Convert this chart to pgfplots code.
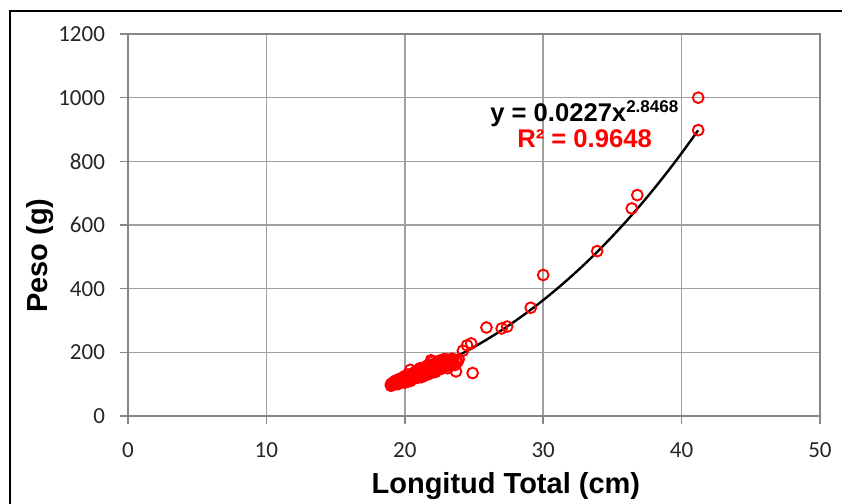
\documentclass[border=0pt]{standalone}
\usepackage{pgfplots}
\pgfplotsset{compat=1.18}
\usepackage{fontspec}
\setmainfont{Liberation Sans}
\newfontfamily\tickfont{Carlito}
\definecolor{gridgray}{RGB}{160,160,160}
\definecolor{axisgray}{RGB}{134,134,134}
\definecolor{ptred}{RGB}{255,0,0}

\begin{document}
\begin{tikzpicture}
% page = 842x504 px, 1 px = 0.5pt; axis box south west at (0,0)
\useasboundingbox (-64pt,-44pt) rectangle (357pt,208pt);
\draw[line width=1.3pt] (-59pt,-60pt) -- (-59pt,202.5pt) -- (380pt,202.5pt);
\begin{axis}[
    scale only axis, width=346pt, height=191pt,
    xmin=0, xmax=50, ymin=0, ymax=1200,
    xtick={0,10,...,50}, ytick={0,200,...,1200},
    grid=major, grid style={gridgray, line width=0.75pt},
    axis line style={axisgray, line width=0.75pt},
    tick align=outside, tick pos=left, major tick length=4pt,
    tick style={axisgray, line width=0.75pt},
    /pgf/number format/assume math mode=true,
    /pgf/number format/1000 sep={},
    tick label style={font=\tickfont\fontsize{11.5}{12}\selectfont, text=black!85},
    yticklabel style={xshift=-4pt},
    xticklabel style={yshift=-6pt},
    xlabel={Longitud Total (cm)},
    ylabel={Peso (g)},
    label style={font=\fontsize{14.5}{16}\selectfont\bfseries},
    xlabel style={at={(axis description cs:0.546,-0.204)}, anchor=base},
    ylabel style={at={(axis description cs:-0.117,0.42)}, anchor=base, rotate=0},
]
% observed specimens
\addplot[only marks, mark=o, mark size=2.7pt, ptred, line width=0.95pt] coordinates {
(19.0,95) (19.0,100) (19.1,103) (19.2,98) (19.2,106) (19.3,101) (19.3,110)
(19.4,104) (19.4,112) (19.5,100) (19.5,108) (19.6,115) (19.6,105) (19.7,110)
(19.7,118) (19.8,107) (19.8,113) (19.9,120) (19.9,110) (20.0,105) (20.0,115)
(20.0,125) (20.1,112) (20.1,120) (20.2,108) (20.2,118) (20.2,130) (20.3,115)
(20.3,124) (20.4,145) (20.4,110) (20.4,120) (20.5,128) (20.5,116) (20.6,122)
(20.6,135) (20.7,118) (20.7,127) (20.8,140) (20.8,124) (20.9,120) (20.9,132)
(21.0,125) (21.0,138) (21.0,145) (21.1,128) (21.1,150) (21.2,122) (21.2,135)
(21.3,140) (21.3,130) (21.4,126) (21.4,148) (21.5,135) (21.5,155) (21.6,130)
(21.6,142) (21.7,138) (21.7,160) (21.8,133) (21.8,147) (21.9,152) (21.9,175)
(22.0,140) (22.0,160) (22.0,170) (22.1,145) (22.1,155) (22.2,138) (22.2,165)
(22.3,150) (22.3,158) (22.4,145) (22.4,172) (22.5,155) (22.5,165) (22.6,148)
(22.6,175) (22.7,160) (22.7,150) (22.8,168) (22.8,178) (22.9,155) (22.9,170)
(23.0,160) (23.0,178) (23.1,150) (23.1,168) (23.2,175) (23.2,162) (23.3,158)
(23.3,172) (23.4,180) (23.5,165) (23.5,178) (23.6,160) (23.7,175) (23.7,140)
(23.8,170) (23.9,178) (24.2,205) (24.5,222) (24.8,228) (24.9,135) (25.9,278)
(27.0,275) (27.4,281) (29.1,340) (30.0,443) (33.9,518) (36.4,652) (36.8,694)
(41.2,898) (41.2,1000)
};
% power trendline y = 0.0227 x^2.8468, tabulated
\addplot[black, line width=1.2pt, smooth] coordinates {
(19,99.1) (20,114.8) (21,132.0) (22,150.6) (23,170.9) (24,192.8) (25,216.6)
(26,242.2) (27,269.6) (28,299.1) (29,330.5) (30,364.0) (31,399.6) (32,437.4)
(33,477.4) (34,519.8) (35,564.5) (36,611.7) (37,661.3) (38,713.5) (39,768.3)
(40,825.6) (41.2,897.6)
};
\node[anchor=base west, inner sep=0, font=\fontsize{12.8}{14}\selectfont\bfseries]
  at (axis cs:26.15,924) {y = 0.0227x\raisebox{4.5pt}{\fontsize{8.5}{9}\selectfont 2.8468}};
\node[anchor=base west, inner sep=0, text=ptred, font=\fontsize{12.8}{14}\selectfont\bfseries]
  at (axis cs:28.1,842) {R² = 0.9648};
\end{axis}
\end{tikzpicture}
\end{document}
